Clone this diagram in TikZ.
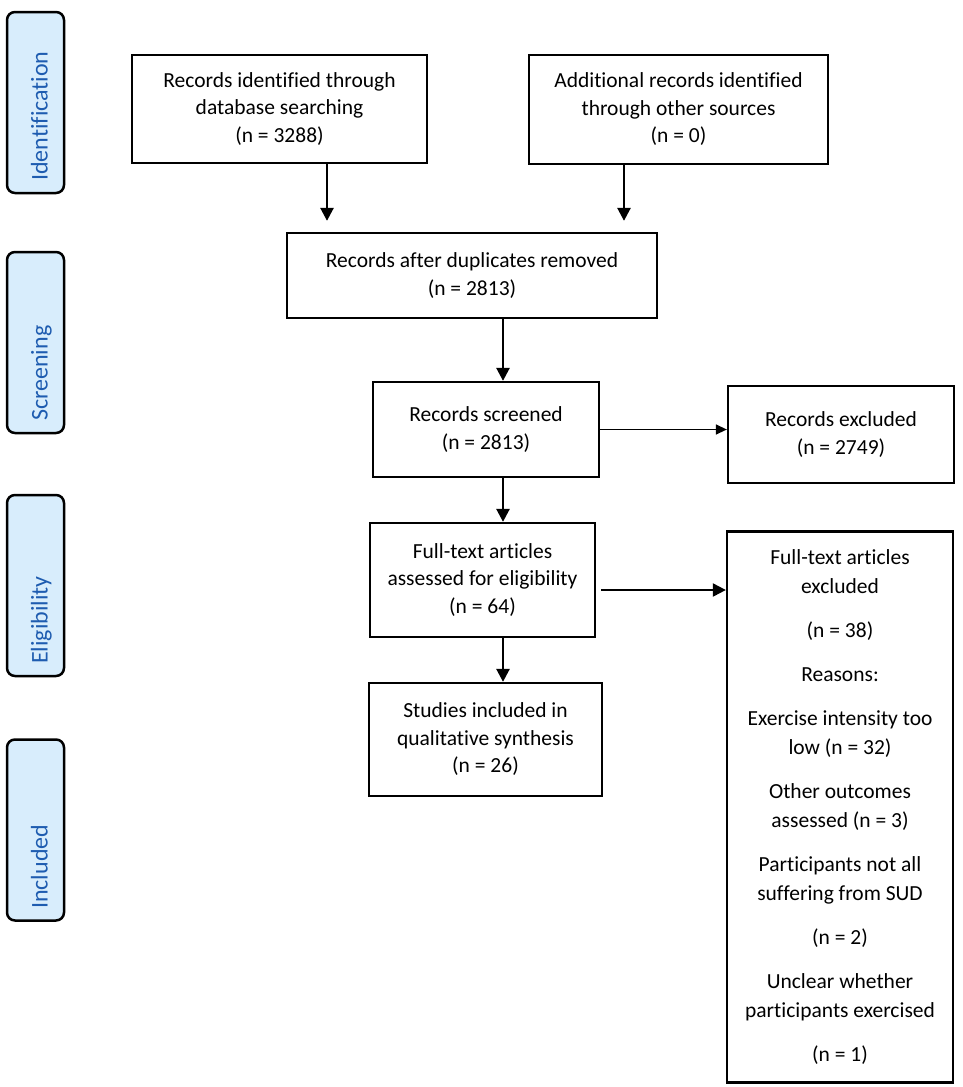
\documentclass[tikz,border=0pt]{standalone}
\usepackage{fontspec}
\setmainfont{Carlito}[Ligatures=NoCommon]
\usetikzlibrary{arrows.meta}
\definecolor{sidefill}{RGB}{216,237,252}
\definecolor{sidetxt}{RGB}{30,92,176}
\begin{document}
\begin{tikzpicture}[x=1pt,y=-1pt,
  box/.style={draw=black, line width=2.3pt, inner sep=0pt, align=center,
    font=\fontsize{21.5}{27.5}\selectfont},
  side/.style={draw=black, line width=2.5pt, fill=sidefill, rounded corners=8pt, inner sep=0pt,
    minimum width=57pt, minimum height=181pt},
  sidetext/.style={text=sidetxt, font=\fontsize{24}{28}\selectfont, inner sep=0pt, rotate=90, anchor=base west},
  arr/.style={line width=2.6pt, -{Triangle[length=13pt,width=13pt]}},
  thinarr/.style={line width=1.4pt, -{Triangle[length=11pt,width=10pt]}}
]
\useasboundingbox (0,0) rectangle (963,1087);

% side labels
\node[side] (s1) at (35.5,102.5) {};
\node[sidetext] (t1) at (47.5,181) {Identification};
\node[side] (s2) at (35.5,342.5) {};
\node[sidetext] (t2) at (47.5,421) {Screening};
\node[side] (s3) at (35.5,585.5) {};
\node[sidetext] (t3) at (47.5,664) {Eligibility};
\node[side] (s4) at (35.5,830) {};
\node[sidetext] (t4) at (47.5,909) {Included};

% boxes
\node[box, minimum width=295pt, minimum height=108pt] (b1) at (279.5,109)
  {Records identified through\\database searching\\(n = 3288)};
\node[box, minimum width=299pt, minimum height=109pt] (b2) at (678.5,109.5)
  {Additional records identified\\through other sources\\(n = 0)};
\node[box, minimum width=370pt, minimum height=85pt] (b3) at (472,275.5)
  {Records after duplicates removed\\(n = 2813)};
\node[box, minimum width=226pt, minimum height=95pt] (b4) at (486,429.5)
  {Records screened\\(n = 2813)};
\node[box, minimum width=226pt, minimum height=97pt] (e1) at (841,434.5)
  {Records excluded\\(n = 2749)};
\node[box, minimum width=225pt, minimum height=114pt] (b5) at (482.5,580)
  {Full-text articles\\assessed for eligibility\\(n = 64)};
\node[box, minimum width=233pt, minimum height=113pt] (b6) at (485.5,739.5)
  {Studies included in\\qualitative synthesis\\(n = 26)};
\node[box, minimum width=226pt, minimum height=551pt, font=\fontsize{21.5}{29}\selectfont] (e2) at (840,807)
  {Full-text articles\\excluded\\[15pt]
   (n = 38)\\[15pt]
   Reasons:\\[15pt]
   Exercise intensity too\\low (n = 32)\\[15pt]
   Other outcomes\\assessed (n = 3)\\[15pt]
   Participants not all\\suffering from SUD\\[15pt]
   (n = 2)\\[15pt]
   Unclear whether\\participants exercised\\[15pt]
   (n = 1)};

% arrow columns
\coordinate (ax1) at (327,0);
\coordinate (ax2) at (624,0);
\coordinate (ax3) at (503,0);
\coordinate (ay5) at (0,590);

\draw[arr, shorten >=11pt] (b1.south -| ax1) -- (b3.north -| ax1);
\draw[arr, shorten >=11pt] (b2.south -| ax2) -- (b3.north -| ax2);
\draw[arr] (b3.south -| ax3) -- (b4.north -| ax3);
\draw[thinarr] (b4.east) -- (b4.east -| e1.west);
\draw[arr] (b4.south -| ax3) -- (b5.north -| ax3);
\draw[arr, line width=2.2pt, shorten <=5pt] (b5.east |- ay5) -- (e2.west |- ay5);
\draw[arr] (b5.south -| ax3) -- (b6.north -| ax3);
\end{tikzpicture}
\end{document}
